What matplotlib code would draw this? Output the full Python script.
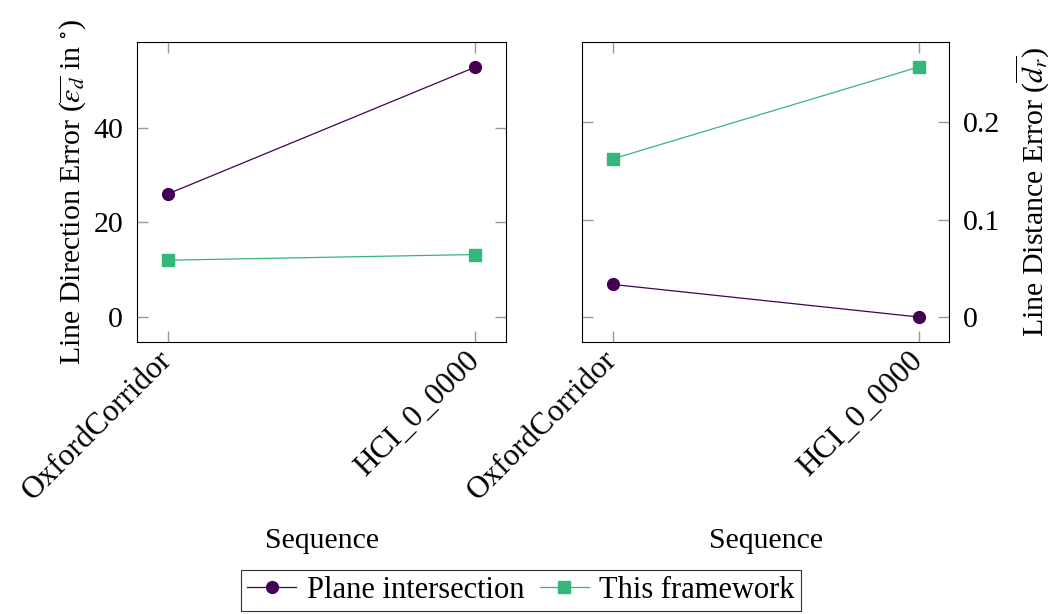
import matplotlib
matplotlib.use("Agg")
import matplotlib.pyplot as plt
import numpy as np

# sequences and per-method errors
sequences = ['OxfordCorridor', 'HCI_0_0000']
dir_plane = [26.0, 52.8]
dir_framework = [12.0, 13.2]
dist_plane = [0.0335, 0.0]
dist_framework = [0.1625, 0.257]

purple = '#440154'
green = '#35b779'

plt.rcParams['font.family'] = ['Liberation Serif', 'DejaVu Serif']
plt.rcParams['mathtext.fontset'] = 'stix'
plt.rcParams['font.size'] = 21.5

fig = plt.figure(figsize=(10.55, 6.14), dpi=100)
ax1 = fig.add_axes([0.1299, 0.443, 0.3498, 0.4886])
ax2 = fig.add_axes([0.5517, 0.443, 0.348, 0.4886])

x = np.arange(len(sequences))

def style_axis(ax):
    ax.set_xlim(-0.1, 1.1)
    ax.set_xticks(x)
    ax.set_xticklabels(sequences, rotation=45, ha='right', va='center',
                       rotation_mode='anchor', fontsize=22.5)
    ax.tick_params(direction='in', length=8, width=1, color='#999999',
                   top=True, right=True, left=True, bottom=True, pad=10)
    for s in ax.spines.values():
        s.set_linewidth(0.8)
    ax.set_xlabel('Sequence')
    ax.xaxis.set_label_coords(0.5, -0.62)

ax1.plot(x, dir_plane, color=purple, lw=0.9, marker='o', ms=8.5,
         label='Plane intersection')
ax1.plot(x, dir_framework, color=green, lw=0.9, marker='s', ms=8,
         label='This framework')
ax1.set_ylim(-5.28, 58.1)
ax1.set_yticks([0, 20, 40])
style_axis(ax1)
ax1.set_ylabel(r'Line Direction Error ($\overline{\varepsilon_d}$ in $^{\circ}$)')

ax2.plot(x, dist_plane, color=purple, lw=0.9, marker='o', ms=8.5)
ax2.plot(x, dist_framework, color=green, lw=0.9, marker='s', ms=8)
ax2.set_ylim(-0.0257, 0.2827)
ax2.set_yticks([0, 0.1, 0.2])
ax2.set_yticklabels(['0', '0.1', '0.2'])
style_axis(ax2)
ax2.yaxis.tick_right()
ax2.tick_params(left=True, right=True, labelleft=False, labelright=True)
ax2.yaxis.set_label_position('right')
ax2.set_ylabel(r'Line Distance Error ($\overline{d_r}$)', labelpad=10)

handles, labels = ax1.get_legend_handles_labels()
leg = fig.legend(handles, labels, loc='lower center', ncol=2,
                 bbox_to_anchor=(0.494, 0.0), frameon=True, fancybox=False,
                 edgecolor='black', handlelength=1.6, handletextpad=0.35,
                 columnspacing=0.5, borderpad=0.2, borderaxespad=0.1,
                 fontsize=22)
leg.get_frame().set_linewidth(0.8)

fig.savefig('out.png', dpi=100)
